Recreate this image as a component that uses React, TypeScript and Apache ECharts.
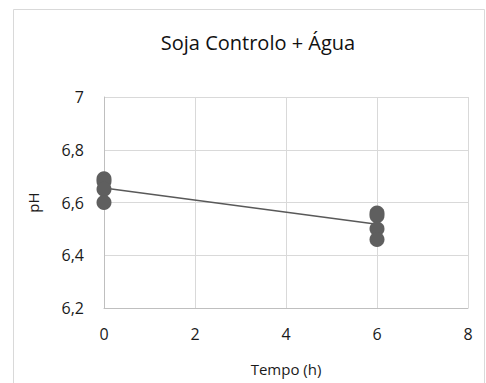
import React, { useEffect, useRef } from "react";
import * as echarts from "echarts";

// Measured pH readings per time point (h)
const time0 = 0;
const time6 = 6;
const phAt0 = [6.69, 6.68, 6.65, 6.6];
const phAt6 = [6.56, 6.55, 6.5, 6.46];

const xTicks = { min: 0, max: 8, interval: 2 };
const yTicks = { min: 6.2, max: 7, interval: 0.2 };

const titleText = "Soja Controlo + Água";
const xTitle = "Tempo (h)";
const yTitle = "pH";

const points: [number, number][] = [
  ...phAt0.map((v) => [time0, v] as [number, number]),
  ...phAt6.map((v) => [time6, v] as [number, number]),
];

// Least-squares linear trend through all readings
function linearFit(pts: [number, number][]) {
  const n = pts.length;
  const mx = pts.reduce((s, p) => s + p[0], 0) / n;
  const my = pts.reduce((s, p) => s + p[1], 0) / n;
  let sxy = 0;
  let sxx = 0;
  for (const [x, y] of pts) {
    sxy += (x - mx) * (y - my);
    sxx += (x - mx) * (x - mx);
  }
  const slope = sxy / sxx;
  return { slope, intercept: my - slope * mx };
}

const fit = linearFit(points);
const trend: [number, number][] = [time0, time6].map((x) => [x, fit.intercept + fit.slope * x]);

const FONT = "'Open Sans', sans-serif";
const TEXT = "#1a1a1a";

export default function App() {
  const ref = useRef<HTMLDivElement>(null);

  useEffect(() => {
    if (!ref.current) return;
    const chart = echarts.init(ref.current, undefined, { renderer: "svg" });
    chart.setOption({
      animation: false,
      backgroundColor: "#ffffff",
      textStyle: { fontFamily: FONT },
      graphic: [
        {
          type: "rect",
          shape: { x: 13.5, y: 9.5, width: 471, height: 400 },
          style: { fill: "none", stroke: "#d9d9d9", lineWidth: 1 },
          z: 0,
        },
      ],
      title: {
        text: titleText,
        left: 253,
        textAlign: "center",
        top: 27,
        textStyle: { fontFamily: FONT, fontSize: 20, fontWeight: "normal", color: "#111" },
      },
      grid: { left: 104, top: 97, right: 18, bottom: 75, containLabel: false },
      xAxis: {
        type: "value",
        min: xTicks.min,
        max: xTicks.max,
        interval: xTicks.interval,
        name: xTitle,
        nameLocation: "middle",
        nameGap: 53,
        nameTextStyle: { fontFamily: FONT, fontSize: 15, color: TEXT },
        axisLine: { show: true, lineStyle: { color: "#bfbfbf", width: 1 } },
        axisTick: { show: false },
        splitLine: { show: true, lineStyle: { color: "#d9d9d9", width: 1 } },
        axisLabel: { margin: 18, fontFamily: FONT, fontSize: 16, color: TEXT },
      },
      yAxis: {
        type: "value",
        min: yTicks.min,
        max: yTicks.max,
        interval: yTicks.interval,
        name: yTitle,
        nameLocation: "middle",
        nameGap: 64,
        nameRotate: 90,
        nameTextStyle: { fontFamily: FONT, fontSize: 15, color: TEXT },
        axisLine: { show: true, lineStyle: { color: "#bfbfbf", width: 1 } },
        axisTick: { show: false },
        splitLine: { show: true, lineStyle: { color: "#d9d9d9", width: 1 } },
        axisLabel: {
          margin: 20,
          fontFamily: FONT,
          fontSize: 16,
          color: TEXT,
          formatter: (v: number) => String(Math.round(v * 10) / 10).replace(".", ","),
        },
      },
      series: [
        {
          type: "line",
          data: trend,
          symbol: "none",
          lineStyle: { color: "#595959", width: 1.5 },
          z: 3,
        },
        {
          type: "scatter",
          data: points,
          symbol: "circle",
          symbolSize: 15,
          itemStyle: { color: "#5f5f5f", opacity: 1 },
          z: 4,
        },
      ],
    });
    return () => chart.dispose();
  }, []);

  return (
    <div
      ref={ref}
      style={{ position: "fixed", left: 0, top: 0, width: 486, height: 383 }}
    />
  );
}
